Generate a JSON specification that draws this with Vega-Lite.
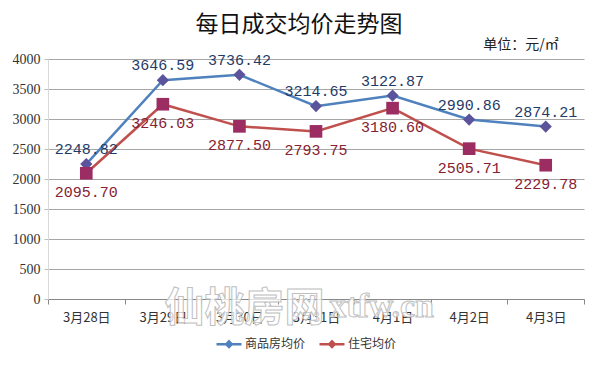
{
  "$schema": "https://vega.github.io/schema/vega-lite/v6.json",
  "width": 536,
  "height": 240,
  "autosize": "none",
  "padding": {"left": 48, "top": 59, "right": 16, "bottom": 66},
  "background": "white",
  "title": {"text": "每日成交均价走势图", "font": "Noto Sans CJK SC", "fontSize": 23, "fontWeight": "normal", "color": "#111111", "anchor": "middle", "dx": -17, "offset": 1},
  "config": {"view": {"stroke": null}},
  "layer": [
    {
      "data": {"values": [
        {"date": "3月28日", "series": "商品房均价", "value": 2248.82, "label": "2248.82"},
        {"date": "3月29日", "series": "商品房均价", "value": 3646.59, "label": "3646.59"},
        {"date": "3月30日", "series": "商品房均价", "value": 3736.42, "label": "3736.42"},
        {"date": "3月31日", "series": "商品房均价", "value": 3214.65, "label": "3214.65"},
        {"date": "4月1日", "series": "商品房均价", "value": 3390, "label": "3122.87"},
        {"date": "4月2日", "series": "商品房均价", "value": 2990.86, "label": "2990.86"},
        {"date": "4月3日", "series": "商品房均价", "value": 2874.21, "label": "2874.21"},
        {"date": "3月28日", "series": "住宅均价", "value": 2095.70, "label": "2095.70"},
        {"date": "3月29日", "series": "住宅均价", "value": 3246.03, "label": "3246.03"},
        {"date": "3月30日", "series": "住宅均价", "value": 2877.50, "label": "2877.50"},
        {"date": "3月31日", "series": "住宅均价", "value": 2793.75, "label": "2793.75"},
        {"date": "4月1日", "series": "住宅均价", "value": 3180.60, "label": "3180.60"},
        {"date": "4月2日", "series": "住宅均价", "value": 2505.71, "label": "2505.71"},
        {"date": "4月3日", "series": "住宅均价", "value": 2229.78, "label": "2229.78"}
      ]},
      "encoding": {
        "x": {
          "field": "date", "type": "nominal",
          "sort": ["3月28日", "3月29日", "3月30日", "3月31日", "4月1日", "4月2日", "4月3日"],
          "bandPosition": 0.5,
          "scale": {"type": "band", "paddingInner": 0, "paddingOuter": 0},
          "axis": {"title": null, "labelAngle": 0, "tickBand": "extent", "tickSize": 5, "tickColor": "#888888", "domainColor": "#888888", "labelFont": "Noto Sans CJK SC", "labelFontSize": 13, "labelColor": "#333333", "labelPadding": 7, "grid": false}
        },
        "y": {
          "field": "value", "type": "quantitative",
          "scale": {"domain": [0, 4000]},
          "axis": {"title": null, "format": "d", "values": [0, 500, 1000, 1500, 2000, 2500, 3000, 3500, 4000], "labelOverlap": false, "grid": true, "gridColor": "#a6a6a6", "domainColor": "#d9d9d9", "tickColor": "#bbbbbb", "tickSize": 4, "labelFont": "Liberation Serif", "labelFontSize": 14, "labelColor": "#333333", "labelPadding": 4}
        }
      },
      "layer": [
        {
          "mark": {"type": "line", "strokeWidth": 2.5},
          "encoding": {
            "color": {
              "field": "series", "type": "nominal",
              "scale": {"domain": ["商品房均价", "住宅均价"], "range": ["#4f81bd", "#c0504d"]},
              "legend": {"orient": "none", "legendX": 167, "legendY": 271, "direction": "horizontal", "title": null, "labelFont": "Noto Sans CJK SC", "labelFontSize": 12, "labelColor": "#333333", "symbolType": "M-1,0H1M0,-0.22L0.22,0L0,0.22L-0.22,0Z", "symbolSize": 625, "symbolStrokeWidth": 2.5, "columnPadding": 8, "labelOffset": 2}
            }
          }
        },
        {
          "transform": [{"filter": "datum.series == '商品房均价'"}],
          "mark": {"type": "point", "filled": true, "shape": "diamond", "size": 150, "opacity": 1},
          "encoding": {
            "fill": {"field": "series", "type": "nominal", "scale": {"domain": ["商品房均价", "住宅均价"], "range": ["#5b539c", "#9b2d62"]}, "legend": null}
          }
        },
        {
          "transform": [{"filter": "datum.series == '住宅均价'"}],
          "mark": {"type": "point", "filled": true, "shape": "square", "size": 160, "opacity": 1},
          "encoding": {
            "fill": {"field": "series", "type": "nominal", "scale": {"domain": ["商品房均价", "住宅均价"], "range": ["#5b539c", "#9b2d62"]}, "legend": null}
          }
        },
        {
          "transform": [{"filter": "datum.series == '商品房均价'"}],
          "mark": {"type": "text", "font": "Liberation Mono", "fontSize": 15, "color": "#1f3b67", "dy": -15},
          "encoding": {"text": {"field": "label"}}
        },
        {
          "transform": [{"filter": "datum.series == '住宅均价'"}],
          "mark": {"type": "text", "font": "Liberation Mono", "fontSize": 15, "color": "#862232", "dy": 19},
          "encoding": {"text": {"field": "label"}}
        }
      ]
    },
    {
      "data": {"values": [{"t": "仙桃房网"}]},
      "mark": {"type": "text", "font": "Noto Sans CJK SC", "fontSize": 40, "fontWeight": "bold", "fill": "white", "fillOpacity": 0.75, "stroke": "#c0c0c0", "strokeWidth": 1, "dx": 5, "dy": 10},
      "encoding": {
        "x": {"datum": "3月30日", "bandPosition": 0.5, "axis": {"title": null, "labelAngle": 0, "tickBand": "extent", "tickSize": 5, "tickColor": "#888888", "domainColor": "#888888", "labelFont": "Noto Sans CJK SC", "labelFontSize": 13, "labelColor": "#333333", "labelPadding": 7, "grid": false}},
        "y": {"datum": 0, "axis": {"title": null, "format": "d", "values": [0, 500, 1000, 1500, 2000, 2500, 3000, 3500, 4000], "labelOverlap": false, "grid": true, "gridColor": "#a6a6a6", "domainColor": "#d9d9d9", "tickColor": "#bbbbbb", "tickSize": 4, "labelFont": "Liberation Serif", "labelFontSize": 14, "labelColor": "#333333", "labelPadding": 4}},
        "text": {"field": "t"}
      }
    },
    {
      "data": {"values": [{"t": "xtfw.cn"}]},
      "mark": {"type": "text", "font": "Liberation Serif", "fontSize": 34, "fontWeight": "bold", "fill": "white", "fillOpacity": 0.75, "stroke": "#c0c0c0", "strokeWidth": 1, "dx": -11, "dy": 8},
      "encoding": {
        "x": {"datum": "4月1日", "bandPosition": 0.5, "axis": {"title": null, "labelAngle": 0, "tickBand": "extent", "tickSize": 5, "tickColor": "#888888", "domainColor": "#888888", "labelFont": "Noto Sans CJK SC", "labelFontSize": 13, "labelColor": "#333333", "labelPadding": 7, "grid": false}},
        "y": {"datum": 0, "axis": {"title": null, "format": "d", "values": [0, 500, 1000, 1500, 2000, 2500, 3000, 3500, 4000], "labelOverlap": false, "grid": true, "gridColor": "#a6a6a6", "domainColor": "#d9d9d9", "tickColor": "#bbbbbb", "tickSize": 4, "labelFont": "Liberation Serif", "labelFontSize": 14, "labelColor": "#333333", "labelPadding": 4}},
        "text": {"field": "t"}
      }
    },
    {
      "data": {"values": [{"t": "单位：元/㎡"}]},
      "mark": {"type": "text", "font": "Noto Sans CJK SC", "fontSize": 14, "color": "#222222", "align": "right", "dx": 13, "dy": -14},
      "encoding": {
        "x": {"datum": "4月3日", "bandPosition": 0.5, "axis": {"title": null, "labelAngle": 0, "tickBand": "extent", "tickSize": 5, "tickColor": "#888888", "domainColor": "#888888", "labelFont": "Noto Sans CJK SC", "labelFontSize": 13, "labelColor": "#333333", "labelPadding": 7, "grid": false}},
        "y": {"datum": 4000, "axis": {"title": null, "format": "d", "values": [0, 500, 1000, 1500, 2000, 2500, 3000, 3500, 4000], "labelOverlap": false, "grid": true, "gridColor": "#a6a6a6", "domainColor": "#d9d9d9", "tickColor": "#bbbbbb", "tickSize": 4, "labelFont": "Liberation Serif", "labelFontSize": 14, "labelColor": "#333333", "labelPadding": 4}},
        "text": {"field": "t"}
      }
    }
  ]
}
